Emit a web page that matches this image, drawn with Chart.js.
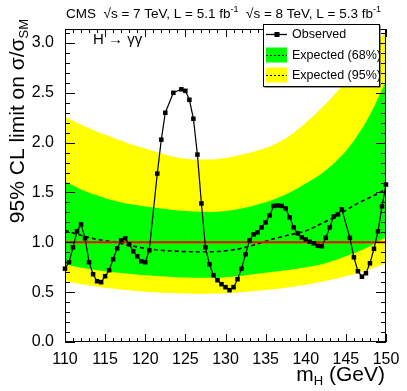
<!DOCTYPE html>
<html>
<head>
<meta charset="utf-8">
<script src="https://cdn.jsdelivr.net/npm/chart.js@4.4.1/dist/chart.umd.min.js"></script>
<style>
  body { margin: 0; background: #fff; }
  #wrap { width: 407px; height: 391px; }
</style>
</head>
<body>
<div id="wrap"><canvas id="limitChart"></canvas></div>
<script>
  // observed limit
  const obsMass = [
    110, 110.5, 111, 111.5, 112, 112.5, 113, 113.5, 114, 114.5,
    115, 115.5, 116, 116.5, 117, 117.5, 118, 118.5, 119, 119.5,
    120, 120.5, 121.5, 122, 122.5, 123.5, 124.5, 125, 125.5, 126,
    126.5, 127, 127.5, 128, 128.5, 129, 129.5, 130, 130.5, 131,
    131.5, 132, 132.5, 133, 133.5, 134, 134.5, 135, 135.5, 136,
    136.5, 137, 137.5, 138, 138.5, 139, 139.5, 140, 140.5, 141,
    141.5, 142, 142.5, 143, 143.5, 144, 144.5, 145.5, 146, 146.5,
    147, 147.5, 148, 148.5, 149, 149.5, 150,
  ];
  const obsLimit = [
    0.735, 0.8, 0.95, 1.11, 1.18, 1.04, 0.8, 0.68, 0.61, 0.6,
    0.66, 0.72, 0.83, 0.94, 1.02, 1.04, 0.98, 0.91, 0.86, 0.81,
    0.8, 0.92, 1.69, 2.03, 2.3, 2.5, 2.535, 2.52, 2.43, 2.24,
    1.88, 1.39, 0.95, 0.78, 0.67, 0.62, 0.58, 0.55, 0.52, 0.55,
    0.63, 0.735, 0.88, 1.02, 1.08, 1.1, 1.15, 1.2, 1.27, 1.365,
    1.37, 1.365, 1.34, 1.25, 1.15, 1.09, 1.05, 1.03, 1.005, 0.99,
    0.965, 0.96, 1.045, 1.15, 1.26, 1.28, 1.33, 1.045, 0.85, 0.71,
    0.655, 0.69, 0.79, 0.935, 1.11, 1.36, 1.58,
  ];

  // expected limit and bands
  const bandMass = [110, 112, 114, 116, 118, 120, 122, 124, 126, 128, 130, 132, 134, 136, 138, 140, 142, 144, 146, 148, 150];
  const expMedian = [1.12, 1.07, 1.03, 1.005, 0.97, 0.94, 0.92, 0.91, 0.905, 0.905, 0.915, 0.94, 0.985, 1.035, 1.075, 1.115, 1.19, 1.27, 1.37, 1.45, 1.53];
  const exp68Lo = [0.78, 0.745, 0.72, 0.7, 0.685, 0.67, 0.66, 0.65, 0.645, 0.645, 0.65, 0.665, 0.685, 0.705, 0.725, 0.75, 0.78, 0.83, 0.89, 0.96, 1.05];
  const exp68Hi = [1.61, 1.53, 1.47, 1.42, 1.385, 1.36, 1.34, 1.32, 1.31, 1.305, 1.315, 1.34, 1.38, 1.43, 1.5, 1.59, 1.69, 1.83, 2.02, 2.28, 2.62];
  const exp95Lo = [0.61, 0.58, 0.555, 0.535, 0.52, 0.505, 0.495, 0.49, 0.485, 0.485, 0.49, 0.5, 0.515, 0.53, 0.55, 0.575, 0.605, 0.64, 0.68, 0.73, 0.79];
  const exp95Hi = [2.26, 2.18, 2.11, 2.05, 1.99, 1.94, 1.89, 1.85, 1.83, 1.83, 1.845, 1.88, 1.92, 1.98, 2.07, 2.2, 2.35, 2.52, 2.72, 2.92, 3.12];

  const smRef = [1, 1];
  const smMass = [110, 150];

  const pts = (xs, ys) => xs.map((x, i) => ({ x: x, y: ys[i] }));
  const font = "'Liberation Sans', Arial, Helvetica, sans-serif";

  const band = (data, color, fill) => ({
    data: data,
    borderWidth: 0,
    pointRadius: 0,
    tension: 0.4,
    cubicInterpolationMode: "monotone",
    backgroundColor: color,
    fill: fill,
  });

  // frame, inner ticks, titles, legend (ROOT style)
  const decorations = {
    id: "decorations",
    afterDraw(chart) {
      const ctx = chart.ctx;
      const a = chart.chartArea;
      const xs = chart.scales.x;
      const ys = chart.scales.y;
      ctx.save();
      ctx.strokeStyle = "#000";
      ctx.lineWidth = 1;
      ctx.strokeRect(a.left + 0.5, a.top + 0.5, a.right - a.left - 1, a.bottom - a.top - 1);

      ctx.beginPath();
      for (let m = 110; m <= 150; m++) {
        const px = Math.round(xs.getPixelForValue(m)) + 0.5;
        const len = m % 5 === 0 ? 8 : 4;
        ctx.moveTo(px, a.bottom);
        ctx.lineTo(px, a.bottom - len);
        ctx.moveTo(px, a.top);
        ctx.lineTo(px, a.top + len);
      }
      for (let k = 0; k <= 31; k++) {
        const py = Math.round(ys.getPixelForValue(k / 10)) + 0.5;
        const len = k % 5 === 0 ? 10 : 5;
        ctx.moveTo(a.left, py);
        ctx.lineTo(a.left + len, py);
        ctx.moveTo(a.right, py);
        ctx.lineTo(a.right - len, py);
      }
      ctx.stroke();

      ctx.fillStyle = "#000";
      ctx.textBaseline = "alphabetic";

      // header
      let x = 66;
      const hy = 18;
      const seg = (t, size, dy) => {
        ctx.font = size + "px " + font;
        ctx.fillText(t, x, hy + (dy || 0));
        x += ctx.measureText(t).width;
      };
      seg("CMS  \u221As = 7 TeV, L = 5.1 fb", 13.5);
      seg("-1", 9, -6);
      seg("  \u221As = 8 TeV, L = 5.3 fb", 13.5);
      seg("-1", 9, -6);

      ctx.font = "15px " + font;
      ctx.fillText("H \u2192 \u03B3\u03B3", 93, 44);

      // y title
      ctx.save();
      ctx.translate(24, 19);
      ctx.rotate(-Math.PI / 2);
      ctx.textAlign = "right";
      ctx.font = "13px " + font;
      const sub = "SM";
      const subW = ctx.measureText(sub).width;
      ctx.fillText(sub, 0, 4);
      ctx.font = "21px " + font;
      ctx.fillText("95% CL limit on \u03C3/\u03C3", -subW, 0);
      ctx.restore();

      // x title
      ctx.textAlign = "right";
      ctx.font = "21px " + font;
      ctx.fillText("(GeV)", 385, 381);
      let w = ctx.measureText(" (GeV)").width;
      ctx.font = "13px " + font;
      ctx.fillText("H", 385 - w, 385);
      w += ctx.measureText("H").width;
      ctx.font = "21px " + font;
      ctx.fillText("m", 385 - w, 381);

      // legend
      const lx = 263, ly = 24, lw = 116, lh = 62;
      ctx.fillStyle = "#333";
      ctx.fillRect(lx + 1.5, ly + 1.5, lw, lh);
      ctx.fillStyle = "#fff";
      ctx.fillRect(lx, ly, lw, lh);
      ctx.strokeRect(lx + 0.5, ly + 0.5, lw, lh);
      ctx.textAlign = "left";
      ctx.textBaseline = "middle";
      ctx.font = "12.5px " + font;
      const rows = [
        { y: 34.5, label: "Observed" },
        { y: 55, label: "Expected (68%)", color: "#00ff00" },
        { y: 75, label: "Expected (95%)", color: "#ffff00" },
      ];
      rows.forEach((r) => {
        if (r.color) {
          ctx.fillStyle = r.color;
          ctx.fillRect(266, r.y - 7.5, 21, 15);
          ctx.setLineDash([2, 2]);
          ctx.beginPath();
          ctx.moveTo(266, r.y + 0.5);
          ctx.lineTo(287, r.y + 0.5);
          ctx.stroke();
          ctx.setLineDash([]);
        } else {
          ctx.lineWidth = 1.3;
          ctx.beginPath();
          ctx.moveTo(266, r.y);
          ctx.lineTo(287, r.y);
          ctx.stroke();
          ctx.fillStyle = "#000";
          ctx.fillRect(274.5, r.y - 2.5, 5, 5);
          ctx.lineWidth = 1;
        }
        ctx.fillStyle = "#000";
        ctx.fillText(r.label, 292, r.y + 0.5);
      });
      ctx.restore();
    },
  };

  const ctx = document.getElementById("limitChart");

  const limitChart = new Chart(ctx, {
    type: "line",
    data: {
      datasets: [
        {
          label: "Observed",
          data: pts(obsMass, obsLimit),
          borderColor: "#000",
          borderWidth: 1.2,
          pointStyle: "rect",
          pointRadius: 3.2,
          pointBackgroundColor: "#000",
          pointBorderWidth: 0,
          tension: 0,
          fill: false,
          clip: false,
        },
        {
          label: "SM",
          data: pts(smMass, smRef),
          borderColor: "#ff0000",
          borderWidth: 2,
          pointRadius: 0,
          fill: false,
        },
        {
          label: "Expected",
          data: pts(bandMass, expMedian),
          borderColor: "#000",
          borderWidth: 1.6,
          borderDash: [4, 3],
          pointRadius: 0,
          tension: 0.4,
          cubicInterpolationMode: "monotone",
          fill: false,
        },
        band(pts(bandMass, exp68Hi), "#00ff00", "+1"),
        band(pts(bandMass, exp68Lo), "#00ff00", false),
        band(pts(bandMass, exp95Hi), "#ffff00", "+1"),
        band(pts(bandMass, exp95Lo), "#ffff00", false),
      ],
    },
    options: {
      responsive: true,
      maintainAspectRatio: false,
      animation: false,
      layout: {
        padding: { top: 29, right: 21, left: 0, bottom: 0 },
      },
      scales: {
        x: {
          type: "linear",
          min: 110,
          max: 150,
          grid: { display: false },
          border: { display: false },
          ticks: {
            stepSize: 5,
            padding: 0,
            color: "#000",
            maxRotation: 0,
            font: { family: font, size: 16 },
          },
          afterFit(scale) {
            scale.height = 49;
          },
        },
        y: {
          min: 0,
          max: 3.14,
          grid: { display: false },
          border: { display: false },
          ticks: {
            stepSize: 0.5,
            includeBounds: false,
            padding: 3,
            color: "#000",
            font: { family: font, size: 16 },
            callback: (v) => v.toFixed(1),
          },
          afterFit(scale) {
            scale.width = 65;
          },
        },
      },
      plugins: {
        legend: { display: false },
        tooltip: { enabled: false },
      },
    },
    plugins: [decorations],
  });
</script>
</body>
</html>
